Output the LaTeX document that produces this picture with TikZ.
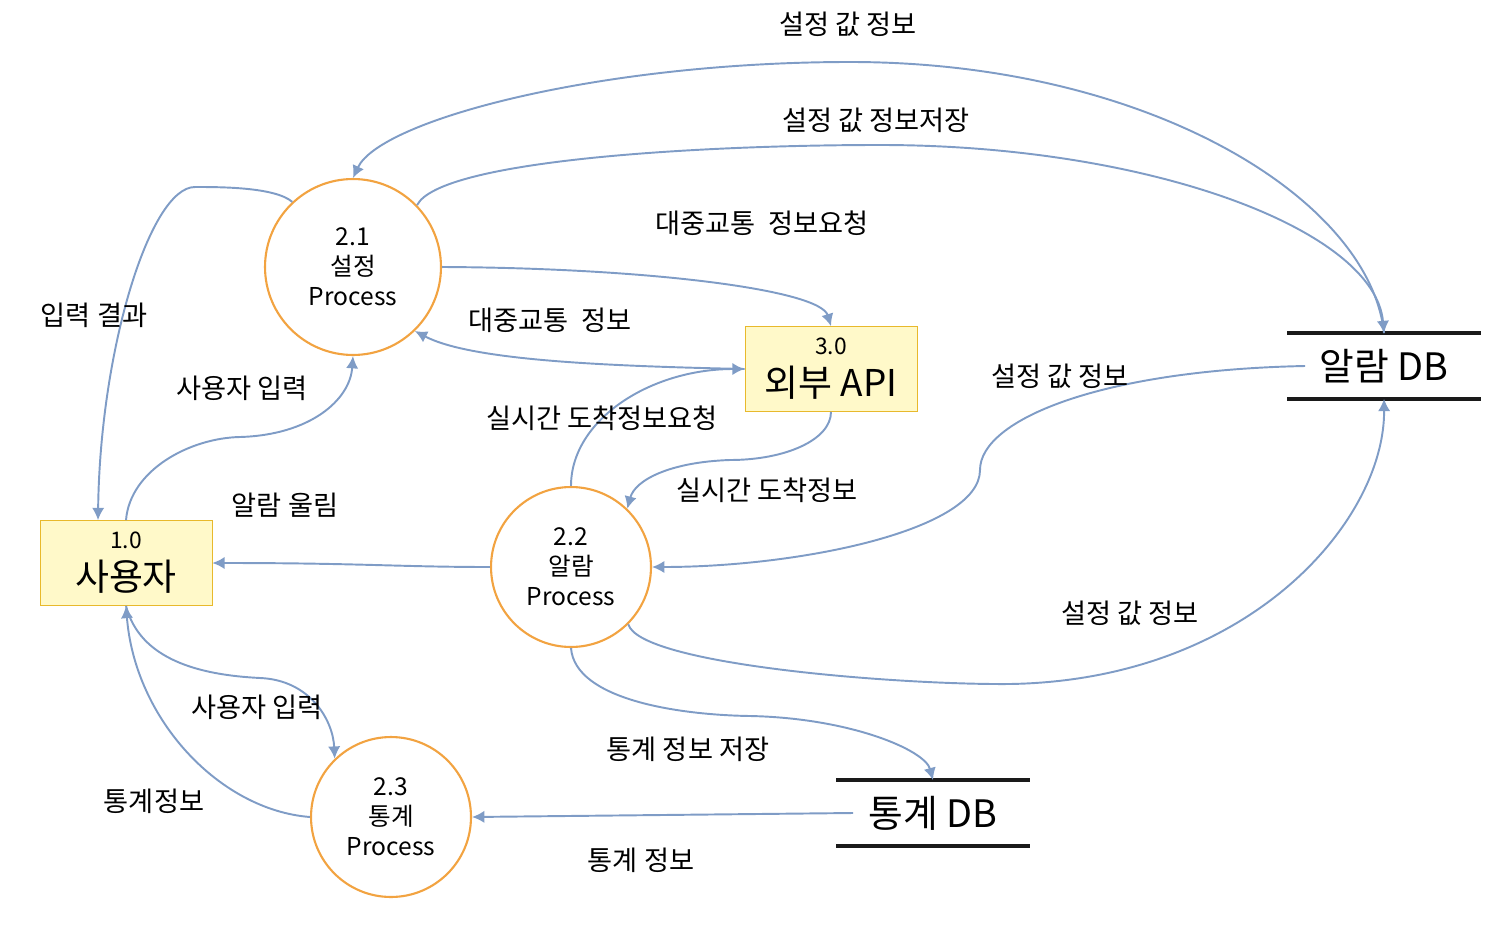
\documentclass[tikz,border=0pt]{standalone}
\usepackage{fontspec}
\setmainfont{Noto Sans CJK KR}
\usetikzlibrary{arrows.meta,positioning,calc}
\definecolor{FlowBlue}{HTML}{7F9CC6}
\definecolor{ProcOrange}{HTML}{F2A341}
\definecolor{EntFill}{HTML}{FFF9C9}
\definecolor{EntLine}{HTML}{E8B92C}
\definecolor{DbBlack}{HTML}{1A1A1A}

\begin{document}
\begin{tikzpicture}[x=0.02cm,y=-0.02cm, every node/.style={font=\fontsize{15.5}{18}\selectfont}]
    \tikzset{proc/.style={circle,draw=ProcOrange,line width=1.2pt,fill=white,align=center,
        inner sep=0pt,font=\fontsize{14}{17}\selectfont},
      ent/.style={draw=EntLine,fill=EntFill,minimum width=3.44cm,minimum height=1.7cm,
        align=center,inner sep=0pt,font=\fontsize{21}{24}\selectfont},
      store/.style={minimum width=3.86cm,minimum height=1.3cm,font=\fontsize{21.5}{24}\selectfont},
      flow/.style={draw=FlowBlue,line width=1.1pt,-{Latex[length=7pt,width=7pt]}},
      dbline/.style={line width=2.4pt,DbBlack}}
    \useasboundingbox (0,0) rectangle (1493,929);
    % entities, processes, stores
    \node[ent] (usr) at (126,563) {{\fontsize{13}{15}\selectfont 1.0}\\사용자};
    \node[ent] (api) at (831,369) {{\fontsize{13}{15}\selectfont 3.0}\\외부 API};
    \node[proc,minimum size=3.52cm] (p21) at (353,267) {2.1\\설정\\Process};
    \node[proc,minimum size=3.2cm] (p22) at (571,567) {2.2\\알람\\Process};
    \node[proc,minimum size=3.2cm] (p23) at (391,817) {2.3\\통계\\Process};
    \node[store] (adb) at (1384,366) {알람 DB};
    \node[store] (sdb) at (933,813) {통계 DB};
    \foreach \s in {adb,sdb}{
      \draw[dbline] (\s.north west) -- (\s.north east);
      \draw[dbline] (\s.south west) -- (\s.south east);}
    % flows
    \draw[flow] (adb.north) .. controls (1370,200) and (1150,62) .. (850,62)
      .. controls (600,62) and (380,120) .. (p21.north);
    \draw[flow] (p21.44) .. controls (440,160) and (700,145) .. (880,145)
      .. controls (1150,145) and (1375,230) .. (adb.north);
    \draw[flow] (p21.east) .. controls (650,268) and (820,290) .. (api.north);
    \draw[flow] (api.west) .. controls (600,366) and (470,360) .. (p21.-46);
    \draw[flow] (p22.north) .. controls (571,420) and (650,369) .. (api.west);
    \draw[flow] (api.south) .. controls (831,440) and (785,460) .. (730,460)
      .. controls (670,462) and (635,480) .. (p22.46);
    \draw[flow] ([xshift=0.36cm]adb.west) .. controls (1100,370) and (980,420) .. (980,470)
      .. controls (980,530) and (800,567) .. (p22.east);
    \draw[flow] (p22.-45) .. controls (640,665) and (900,685) .. (1010,684)
      .. controls (1250,680) and (1385,520) .. (adb.south);
    \draw[flow] (p22.south) .. controls (575,700) and (680,715) .. (750,716)
      .. controls (850,718) and (925,750) .. (sdb.north);
    \draw[flow] ([xshift=0.34cm]sdb.west) -- (p23.east);
    \draw[flow] (p22.west) .. controls (400,567) and (360,563) .. (usr.east);
    \draw[flow] (usr.north) .. controls (130,470) and (190,438) .. (240,437)
      .. controls (310,435) and (350,400) .. (p21.south);
    \draw[flow] (p21.133) .. controls (275,187) and (220,187) .. (195,187)
      .. controls (150,187) and (100,350) .. ([xshift=-0.56cm]usr.north);
    \draw[flow] (usr.south) .. controls (140,660) and (200,675) .. (260,678)
      .. controls (310,680) and (333,720) .. (p23.134);
    \draw[flow] (p23.west) .. controls (220,810) and (135,720) .. (usr.south);
    % labels
    \node (l1) at (848,24) {설정 값 정보};
    \node (l2) at (876,120) {설정 값 정보저장};
    \node (l3) at (762,223) {대중교통~~정보요청};
    \node (l4) at (550,320) {대중교통~~정보};
    \node (l5) at (94,315) {입력 결과};
    \node (l6) at (242,388) {사용자 입력};
    \node (l7) at (602,418) {실시간 도착정보요청};
    \node (l8) at (1060,376) {설정 값 정보};
    \node (l9) at (767,490) {실시간 도착정보};
    \node (l10) at (285,505) {알람 울림};
    \node (l11) at (1130,613) {설정 값 정보};
    \node (l12) at (257,707) {사용자 입력};
    \node (l13) at (688,749) {통계 정보 저장};
    \node (l14) at (154,801) {통계정보};
    \node (l15) at (641,860) {통계 정보};
\end{tikzpicture}
\end{document}
